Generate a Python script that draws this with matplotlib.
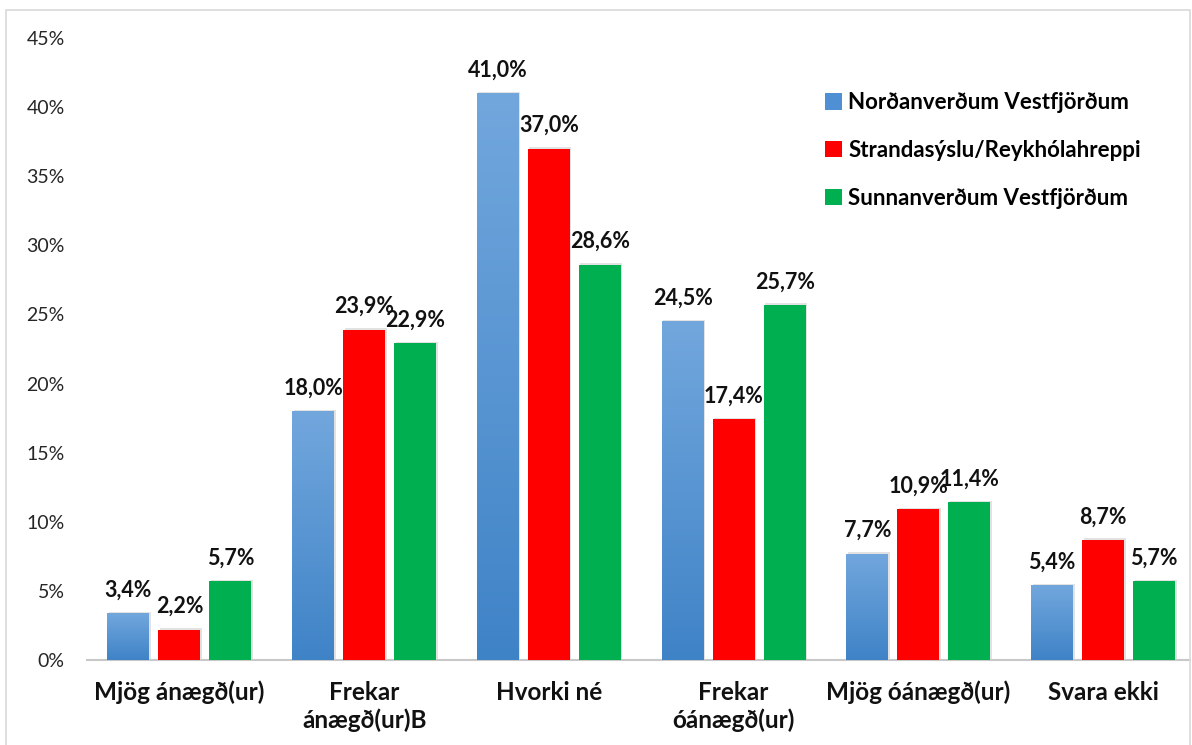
import numpy as np
import matplotlib
matplotlib.use("Agg")
import matplotlib.pyplot as plt
from matplotlib.patches import Rectangle
from matplotlib.colors import LinearSegmentedColormap

plt.rcParams['font.family'] = ['Lato', 'DejaVu Sans']

categories = ["Mjög ánægð(ur)", "Frekar\nánægð(ur)B", "Hvorki né",
              "Frekar\nóánægð(ur)", "Mjög óánægð(ur)", "Svara ekki"]
series_names = ["Norðanverðum Vestfjörðum", "Strandasýslu/Reykhólahreppi",
                "Sunnanverðum Vestfjörðum"]
nordan = [3.4, 18.0, 41.0, 24.5, 7.7, 5.4]
strandir = [2.2, 23.9, 37.0, 17.4, 10.9, 8.7]
sunnan = [5.7, 22.9, 28.6, 25.7, 11.4, 5.7]
yticks = [0, 5, 10, 15, 20, 25, 30, 35, 40, 45]

colors = ["#4f8fd3", "#ff0000", "#00b050"]
blue_grad = LinearSegmentedColormap.from_list("bg", ["#3f83c7", "#72a7dd"])

fig = plt.figure(figsize=(11.92, 7.45), dpi=100)
fig.patches.append(Rectangle((6 / 1192, -0.01), 1184 / 1192, 0.003 + 740 / 745,
                             transform=fig.transFigure, fill=False,
                             edgecolor="#d9d9d9", linewidth=1.2))
ax = fig.add_axes([87 / 1192, 85 / 745, 1103 / 1192, 622 / 745])

x = np.arange(len(categories))
step, width = 0.276, 0.227
for i, (vals, name) in enumerate(zip([nordan, strandir, sunnan], series_names)):
    bars = ax.bar(x + (i - 1) * step, vals, width, color=colors[i], label=name,
                  zorder=3)
    for b, v in zip(bars, vals):
        # soft shadow
        ax.add_patch(Rectangle((b.get_x() + 0.008, 0), b.get_width(), v + 0.1,
                               facecolor="#d0d0d0", alpha=0.6, zorder=2,
                               linewidth=0))
        if i == 0:
            grad = np.linspace(0, 1, 256).reshape(-1, 1)
            im = ax.imshow(grad, cmap=blue_grad, origin="lower", aspect="auto",
                           extent=[b.get_x(), b.get_x() + b.get_width(), 0, v],
                           zorder=4)
            im.set_clip_path(b)
        ax.annotate(f"{v:.1f}".replace(".", ",") + "%",
                    (b.get_x() + b.get_width() / 2, v), xytext=(0, 9),
                    textcoords="offset points", ha="center", va="bottom",
                    fontsize=15.5, fontweight="bold", color="#111111", zorder=5)

ax.set_xlim(-0.5, 5.47)
ax.set_ylim(0, 45)
ax.set_yticks(yticks)
ax.set_yticklabels([f"{t}%" for t in yticks], fontsize=14, color="#262626")
ax.set_xticks(x)
ax.set_xticklabels(categories, fontsize=17.5, fontweight="bold",
                   color="#111111", linespacing=1.25)
ax.tick_params(axis="y", length=0, pad=16)
ax.tick_params(axis="x", length=0, pad=15)
for s in ["top", "right", "left"]:
    ax.spines[s].set_visible(False)
ax.spines["bottom"].set_color("#c8c8c8")
ax.spines["bottom"].set_linewidth(1.5)
ax.spines["bottom"].set_zorder(1)

handles, labels = ax.get_legend_handles_labels()
ax.legend(handles, labels, loc="upper left", bbox_to_anchor=(0.651, 0.945),
          frameon=False, handlelength=0.75, handleheight=0.75,
          handletextpad=0.3, labelspacing=1.2,
          prop={"weight": "bold", "size": 16})

fig.savefig("out.png", dpi=100)
